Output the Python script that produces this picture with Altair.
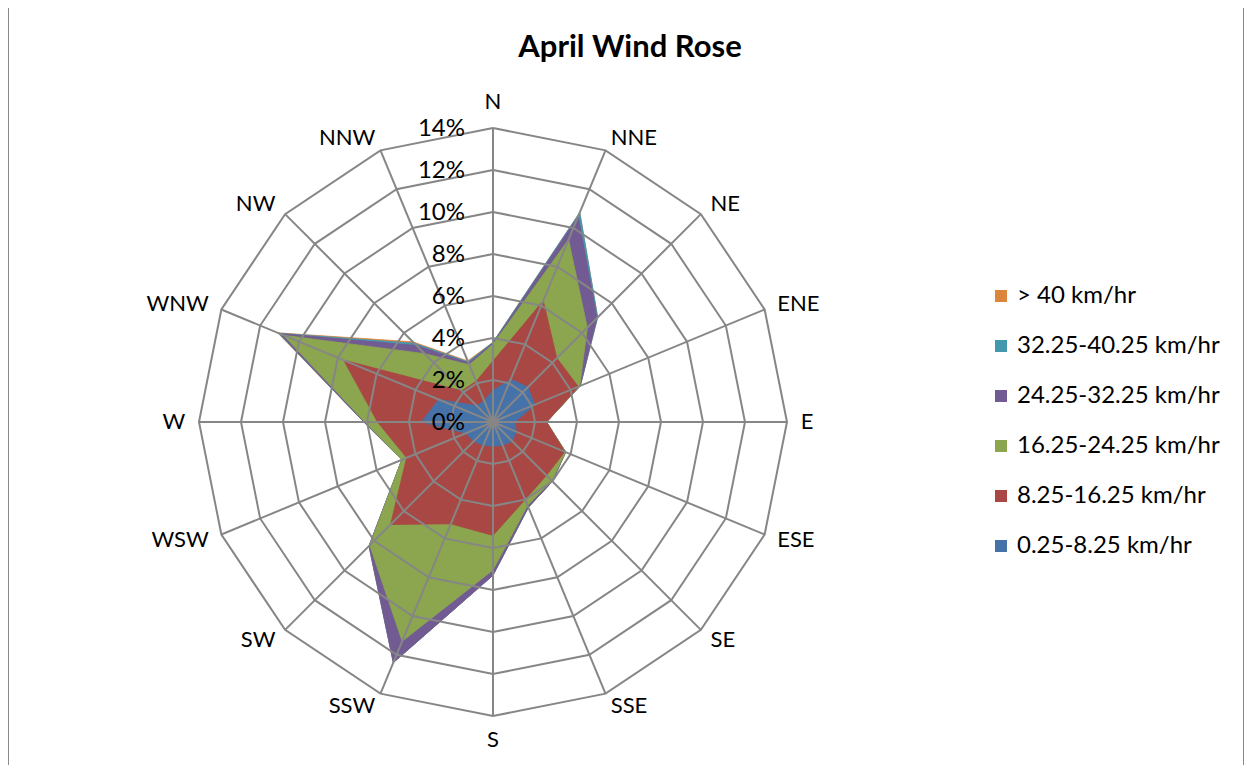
import altair as alt
import pandas as pd

# ---------------- data (percent of time, per speed bin) ----------------
directions = ["N", "NNE", "NE", "ENE", "E", "ESE", "SE", "SSE",
              "S", "SSW", "SW", "WSW", "W", "WNW", "NW", "NNW"]

series_names = ["0.25-8.25 km/hr", "8.25-16.25 km/hr", "16.25-24.25 km/hr",
                "24.25-32.25 km/hr", "32.25-40.25 km/hr", "> 40 km/hr"]
series_colors = ["#4572A9", "#A84744", "#8BA64E", "#725A92", "#4498AE", "#DD843D"]

bin_0_8   = [1.5, 2.2, 2.35, 2.15, 1.05, 1.2, 1.3, 1.2, 1.15, 1.2, 1.3, 1.4, 3.4, 2.8, 1.1, 1.1]
bin_8_16  = [1.4, 4.05, 1.95, 2.25, 1.5, 2.5, 2.3, 2.8, 4.25, 4.05, 5.6, 3.05, 2.1, 4.9, 1.0, 1.0]
bin_16_24 = [0.8, 3.15, 2.05, 0.07, 0.0, 0.05, 0.35, 0.3, 1.65, 6.05, 1.4, 0.25, 0.6, 3.1, 2.5, 0.85]
bin_24_32 = [0.05, 1.2, 0.65, 0.03, 0.0, 0.0, 0.05, 0.1, 0.25, 1.1, 0.05, 0.0, 0.05, 0.2, 0.55, 0.1]
bin_32_40 = [0.05, 0.2, 0.05, 0.0, 0.0, 0.0, 0.0, 0.0, 0.0, 0.0, 0.0, 0.0, 0.0, 0.05, 0.15, 0.05]
bin_40_up = [0.0, 0.0, 0.0, 0.0, 0.0, 0.0, 0.0, 0.0, 0.0, 0.0, 0.0, 0.0, 0.0, 0.05, 0.1, 0.05]

tick_values = [0, 2, 4, 6, 8, 10, 12, 14]
tick_labels = ["0%", "2%", "4%", "6%", "8%", "10%", "12%", "14%"]

title_text = "April Wind Rose"

# ---------------- build tables ----------------
bins = [bin_0_8, bin_8_16, bin_16_24, bin_24_32, bin_32_40, bin_40_up]
n = len(directions)
rows = []
cum = [0.0] * n
for k, (name, vals) in enumerate(zip(series_names, bins)):
    cum = [c + v for c, v in zip(cum, vals)]
    for i in range(n + 1):
        rows.append({"series": name, "k": k, "idx": i, "value": cum[i % n]})
poly = pd.DataFrame(rows)

rings = pd.DataFrame([{"ring": r, "idx": i, "value": r}
                      for r in tick_values[1:] for i in range(n + 1)])
spokes = pd.DataFrame([{"idx": i, "value": tick_values[-1]} for i in range(n)])
dirs = pd.DataFrame([{"idx": i, "label": d} for i, d in enumerate(directions)])
ticks = pd.DataFrame({"value": tick_values, "label": tick_labels})
legend_df = pd.DataFrame({"series": series_names[::-1]})

# ---------------- scales: 21 px per 1 %, centre at page (493, 422) ----------------
W, H = 1237, 757
xscale = alt.Scale(domain=[-23.095, 35.81], nice=False, zero=False)
yscale = alt.Scale(domain=[-16.333, 19.714], nice=False, zero=False)
ang = "datum.idx * PI / 8"


def xy(chart, rfield="value"):
    return chart.transform_calculate(
        px=f"datum.{rfield} * sin({ang})",
        py=f"datum.{rfield} * cos({ang})",
    )


X = alt.X("px:Q", scale=xscale, axis=None)
Y = alt.Y("py:Q", scale=yscale, axis=None)

layers = []
# filled radar polygons, largest (cumulative) first
for k in reversed(range(len(series_names))):
    c = series_colors[k]
    layers.append(
        xy(alt.Chart(poly).transform_filter(f"datum.k == {k}"))
        .mark_line(fill=c, stroke=c, strokeWidth=0.8, strokeJoin="miter")
        .encode(x=X, y=Y, order="idx:Q")
    )

grid_color = "#868686"
layers.append(
    xy(alt.Chart(rings))
    .mark_line(stroke=grid_color, strokeWidth=2)
    .encode(x=X, y=Y, order="idx:Q", detail="ring:N")
)
layers.append(
    xy(alt.Chart(spokes))
    .transform_calculate(zero="0")
    .mark_rule(stroke=grid_color, strokeWidth=2)
    .encode(x=alt.X("zero:Q", scale=xscale, axis=None),
            y=alt.Y("zero:Q", scale=yscale, axis=None),
            x2="px:Q", y2="py:Q")
)

# tick labels on the N spoke
layers.append(
    alt.Chart(ticks).transform_calculate(zero="0")
    .mark_text(align="right", baseline="middle", dx=-28, dy=1, fontSize=24,
               font="Lato", color="#000000")
    .encode(x=alt.X("zero:Q", scale=xscale, axis=None),
            y=alt.Y("value:Q", scale=yscale, axis=None), text="label:N")
)

# direction labels
LAB_R = 14.65
lab = alt.Chart(dirs).transform_calculate(lr=str(LAB_R))
for flt, al, bl in [("datum.idx > 0 && datum.idx < 8", "left", "middle"),
                    ("datum.idx > 8", "right", "middle"),
                    ("datum.idx == 0", "center", "bottom"),
                    ("datum.idx == 8", "center", "top")]:
    layers.append(
        xy(lab.transform_filter(flt), "lr")
        .mark_text(align=al, baseline=bl, fontSize=22, font="Lato", color="#000000")
        .encode(x=X, y=Y, text="label:N")
    )

# title
layers.append(
    alt.Chart(pd.DataFrame({"t": [title_text]}))
    .mark_text(fontSize=31, fontWeight="bold", font="Lato", color="#000000",
               align="center", baseline="middle")
    .encode(x=alt.value(622), y=alt.value(40), text="t:N")
)

# frame (left, top, right)
frame = alt.Chart(pd.DataFrame({"a": [0]}))
for enc in [dict(x=alt.value(0.5), y=alt.value(-3), y2=alt.value(H)),
            dict(x=alt.value(-1), x2=alt.value(W - 1), y=alt.value(-3)),
            dict(x=alt.value(W - 1.5), y=alt.value(-3), y2=alt.value(H))]:
    layers.append(frame.mark_rule(stroke="#8a8a8a", strokeWidth=1).encode(**enc))

# legend carrier (invisible marks, visible legend)
layers.append(
    alt.Chart(legend_df).transform_calculate(zero="0")
    .mark_square(opacity=0)
    .encode(
        x=alt.X("zero:Q", scale=xscale, axis=None),
        y=alt.Y("zero:Q", scale=yscale, axis=None),
        color=alt.Color(
            "series:N",
            scale=alt.Scale(domain=series_names[::-1], range=series_colors[::-1]),
            sort=series_names[::-1],
            legend=alt.Legend(
                title=None, orient="none", legendX=981, legendY=276,
                symbolType="square", symbolSize=144, symbolOpacity=1,
                symbolStrokeWidth=0, labelFont="Lato", labelFontSize=24,
                labelColor="#000000", labelOffset=4, rowPadding=26,
                labelLimit=400, padding=0,
            ),
        ),
    )
)

chart = (
    alt.layer(*layers)
    .properties(width=W, height=H, padding=0, autosize=alt.AutoSizeParams(type="none"))
    .configure_view(stroke=None)
)

chart.save("out.html", embed_options={"renderer": "svg", "actions": False})
